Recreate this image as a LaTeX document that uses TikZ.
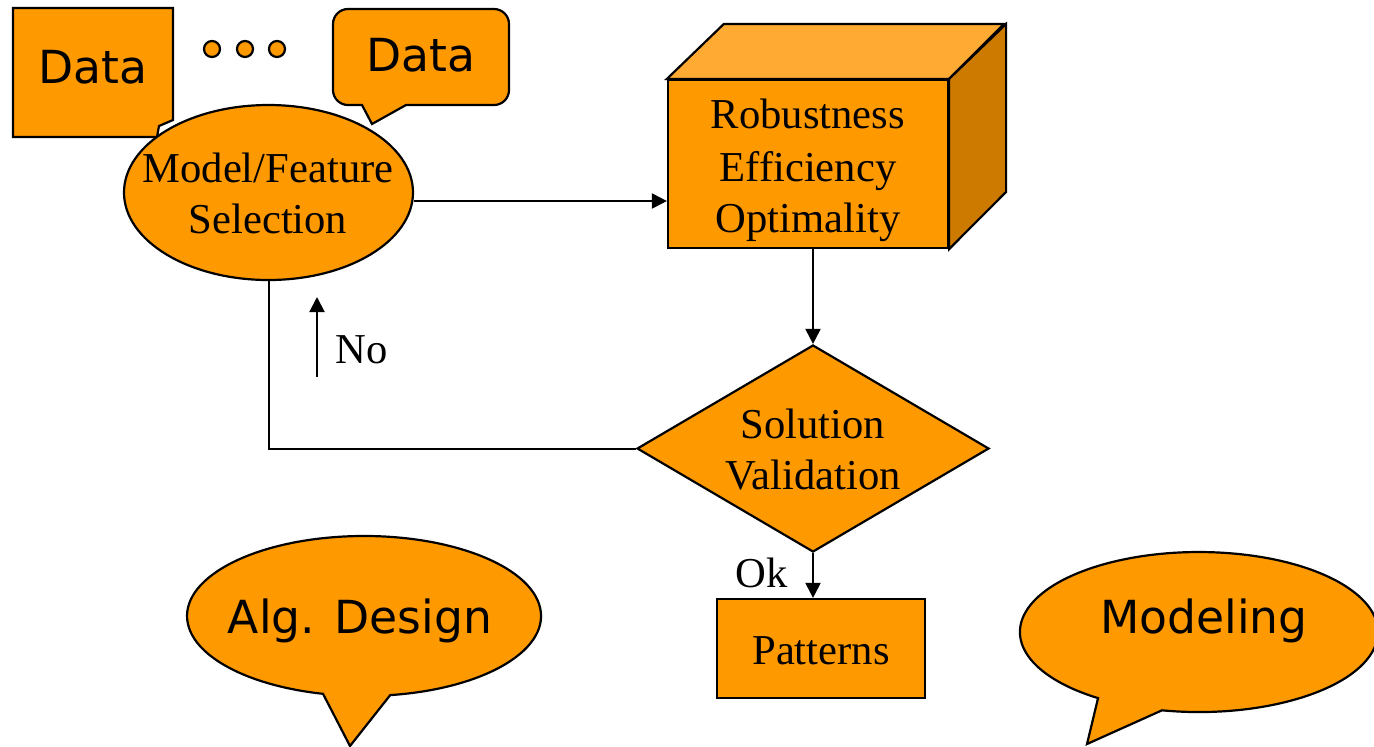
\documentclass[tikz,border=0pt]{standalone}
\usepackage{fontspec}
\setmainfont{Liberation Serif}
\newfontfamily\sansf{DejaVu Sans}
\usetikzlibrary{shapes.geometric,arrows.meta,calc}
\definecolor{orng}{HTML}{FF9900}
\definecolor{orngtop}{HTML}{FFAA33}
\definecolor{orngside}{HTML}{CC7A00}
\tikzset{
  shp/.style={draw=black, fill=orng, line width=1.1pt, line join=miter},
  conn/.style={draw=black, line width=1pt},
  arr/.style={conn, -{Triangle[length=7.5pt,width=7.5pt]}},
  serif/.style={font=\fontsize{21.3pt}{25pt}\selectfont, inner sep=0pt, anchor=base},
  sans/.style={font=\sansf\fontsize{22.8pt}{27pt}\selectfont, inner sep=0pt, anchor=base},
}
\begin{document}
\begin{tikzpicture}[x=0.5pt,y=-0.5pt]
\path[use as bounding box] (0,0) rectangle (1374,746);
\clip (0,0) rectangle (1374,746);

% left Data callout
\filldraw[shp] (13,8) -- (173,8) -- (173,120) -- (159,126) -- (157,137) -- (13,137) -- cycle;
\node[sans] (d1) at (93,83) {Data};

% dots
\foreach \i/\xx in {1/212,2/245,3/277}
  \filldraw[shp] (\xx,49) circle[radius=8];

% right Data callout
\filldraw[shp] (348,9) -- (494,9) arc[start angle=270,end angle=360,radius=15]
  -- (509,90) arc[start angle=0,end angle=90,radius=15]
  -- (406,105) -- (372,124) -- (362,105) -- (348,105)
  arc[start angle=90,end angle=180,radius=15]
  -- (333,24) arc[start angle=180,end angle=270,radius=15] -- cycle;
\node[sans] (d2) at (421,71) {Data};

% selection ellipse
\node[shp, ellipse, minimum width=144.5pt, minimum height=87.5pt, inner sep=0pt] (sel) at (268.5,192.5) {};
\node[serif] (sel1) at (268,182) {Model/Feature};
\node[serif] (sel2) at (268,233) {Selection};

% cube
\node[shp, rectangle, minimum width=140pt, minimum height=84pt, inner sep=0pt] (cube) at (808,164) {};
\filldraw[shp, fill=orngtop] (cube.north west) -- ++(57,-55) -- ++(280,0) -- (cube.north east) -- cycle;
\filldraw[shp, fill=orngside] (cube.north east) -- ++(57,-55) -- ++(0,168) -- (cube.south east) -- cycle;
\node[serif] (c1) at (808,128) {Robustness};
\node[serif] (c2) at (808,181) {Efficiency};
\node[serif] (c3) at (808,232) {Optimality};

% diamond
\node[shp, diamond, aspect=1.7, minimum width=176pt, minimum height=103.5pt, inner sep=0pt] (dia) at (813,448.5) {};
\node[serif] (v1) at (813,438) {Solution};
\node[serif] (v2) at (813,489) {Validation};

% patterns
\node[shp, rectangle, minimum width=104pt, minimum height=49.5pt, inner sep=0pt] (pat) at (821,648.5) {};
\node[serif] (p1) at (821,664) {Patterns};

% connectors
\draw[arr] ([yshift=-4.25pt]sel.east) coordinate (a1) -- (a1 -| cube.west);
\draw[arr] (dia.north |- cube.south) -- (dia.north);
\draw[arr] (dia.south) -- (dia.south |- pat.north);
\draw[conn] (dia.west) -| (sel.south);
\coordinate (n0) at (317,377);
\coordinate (n1) at (317,297);
\draw[arr] (n0) -- (n1);
\node[serif] (no) at (362,363) {No};
\node[serif] (ok) at (762,587) {Ok};

% Alg. Design callout
\filldraw[shp] (350,746) -- (390.2,695.1)
  arc[start angle=81.5,end angle=-256.6,x radius=177,y radius=80] -- cycle;
\node[sans] (alg) at (360,633) {Alg. Design};

% Modeling callout
\filldraw[shp] (1087,744) -- (1162,710.3)
  arc[start angle=101.9,end angle=-235.7,x radius=179,y radius=80] -- cycle;
\node[sans] (mod) at (1204,633) {Modeling};
\end{tikzpicture}
\end{document}
